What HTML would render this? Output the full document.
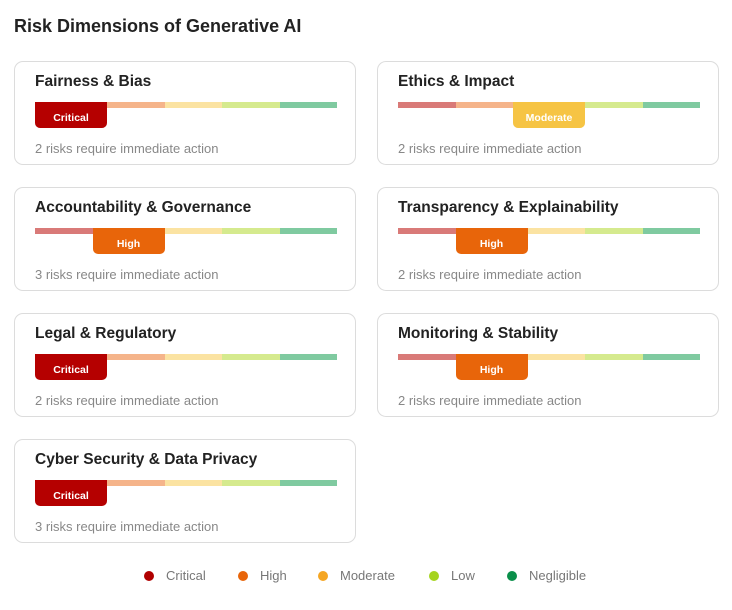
<!DOCTYPE html>
<html><head><meta charset="utf-8">
<style>
body{margin:0;width:732px;height:610px;background:#fff;font-family:"Liberation Sans",sans-serif;position:relative;overflow:hidden}
.title{position:absolute;left:14px;top:16px;font-size:18px;font-weight:bold;color:#222}
.card{position:absolute;width:340px;height:102px;border:1px solid #dcdcdc;border-radius:9px;background:#fff}
.ct{position:absolute;left:20px;top:11px;font-size:15.5px;font-weight:bold;color:#222}
.seg{position:absolute;top:40px;height:6px}
.badge{position:absolute;top:40px;height:26px;border-radius:0 0 5px 5px;color:#fff;font-size:10.5px;font-weight:bold;text-align:center;line-height:32px}
.sub{position:absolute;left:20px;top:79px;font-size:13px;color:#888}
.leg{position:absolute;top:568px;font-size:13px;color:#777}
.dot{display:inline-block;width:10px;height:10px;border-radius:50%;margin-right:12px;vertical-align:-1px}
</style></head><body>
<div class="title">Risk Dimensions of Generative AI</div>
<div id="root"></div>
<script>
const names=["Fairness & Bias","Ethics & Impact","Accountability & Governance","Transparency & Explainability","Legal & Regulatory","Monitoring & Stability","Cyber Security & Data Privacy"];
const levels=[0,2,1,1,0,1,0];
const riskCounts=[2,2,3,2,2,2,3];
const levelNames=["Critical","High","Moderate","Low","Negligible"];
const barColors=["#d97a78","#f5b48a","#fbe3a2","#d5ea8e","#7fcaa0"];
const badgeColors=["#b50000","#e8650a","#f6c444"];
const dotColors=["#b00000","#e8650a","#f5a623","#a5d41f","#0a8f4a"];
const root=document.getElementById('root');
names.forEach((n,i)=>{
  const c=document.createElement('div');c.className='card';
  
  
  c.style.left=(i%2?377:14)+'px';c.style.top=(61+Math.floor(i/2)*126)+'px';
  const t=document.createElement('div');t.className='ct';t.textContent=n;
  
  
  c.appendChild(t);
  let x=20;const lv=levels[i];
  for(let s=0;s<5;s++){
    const w=s===lv?72:57.5;
    if(s===lv){
      const b=document.createElement('div');b.className='badge';
      
      
      b.style.left=x+'px';b.style.width=w+'px';b.style.background=badgeColors[lv]||dotColors[lv];
      b.textContent=levelNames[lv];c.appendChild(b);
    }else{
      const g=document.createElement('div');g.className='seg';
      
      
      g.style.left=x+'px';g.style.width=w+'px';g.style.background=barColors[s];c.appendChild(g);
    }
    x+=w;
  }
  const sb=document.createElement('div');sb.className='sub';
  
  
  sb.textContent=riskCounts[i]+' risks require immediate action';c.appendChild(sb);
  root.appendChild(c);
});
const legX=[144,238,318,429,507];
levelNames.forEach((l,i)=>{
  const d=document.createElement('div');d.className='leg';
  
  
  d.style.left=legX[i]+'px';
  d.innerHTML='<span class="dot" style="background:'+dotColors[i]+'"></span>'+l;
  root.appendChild(d);
});
</script>
</body></html>
